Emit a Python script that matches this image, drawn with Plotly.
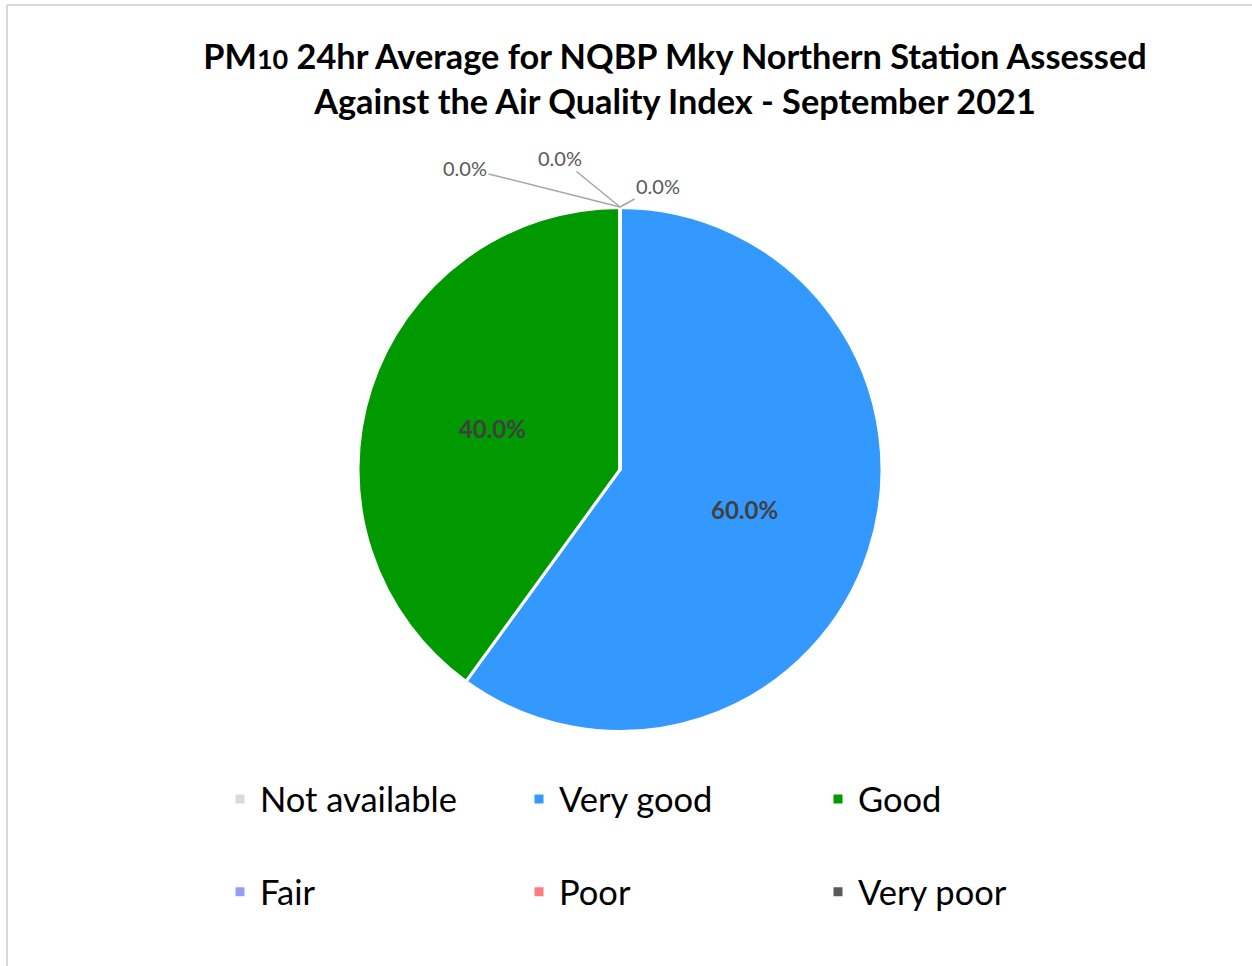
import plotly.graph_objects as go

# ---- data ----
categories = ["Not available", "Very good", "Good", "Fair", "Poor", "Very poor"]
percent_values = [0, 60, 40, 0, 0, 0]
slice_colors = ["#D9D9D9", "#3399FF", "#009900", "#9999FF", "#FF7C80", "#595959"]

title_line1 = "PM<span style='font-size:27px'>10</span> 24hr Average for NQBP Mky Northern Station Assessed"
title_line2 = "Against the Air Quality Index - September 2021"

# ---- layout constants (pixels) ----
W, H = 1252, 966
ML, MR = 150, 150
PW = W - ML - MR
FONT = "Lato"


def px_x(p):
    """figure pixel x -> paper fraction"""
    return (p - ML) / PW


def px_y(p):
    """figure pixel y (from top) -> paper fraction"""
    return 1 - p / H


pie_dom_x = [px_x(358), px_x(882)]
pie_dom_y = [px_y(732), px_y(207)]

total = sum(percent_values)
# legend labels get a blank second line so that the legend rows are spaced like the original
legend_labels = [c + "<br> " for c in categories]
text_pos = ["inside" if v > 0 else "none" for v in percent_values]

fig = go.Figure()
fig.add_trace(go.Pie(
    labels=legend_labels,
    values=percent_values,
    sort=False,
    direction="clockwise",
    rotation=0,
    marker=dict(colors=slice_colors, line=dict(color="white", width=3)),
    texttemplate="%{percent:.1%}",
    textposition=text_pos,
    insidetextorientation="horizontal",
    insidetextfont=dict(family=FONT, size=24, color="#404040", weight="bold"),
    domain=dict(x=pie_dom_x, y=pie_dom_y),
    hoverinfo="skip",
))

# zero-value slices sit at the top of the pie; label them with leader lines
top_x = (pie_dom_x[0] + pie_dom_x[1]) / 2
top_y = pie_dom_y[1]
zero_label_offsets = {"Not available": (38, -21), "Fair": (-155, -39), "Poor": (-60, -49)}
annotations = []
for cat, v in zip(categories, percent_values):
    if v == 0 and cat in zero_label_offsets:
        ax, ay = zero_label_offsets[cat]
        annotations.append(dict(
            x=top_x, y=top_y, xref="paper", yref="paper",
            text=f"{v / total:.1%}",
            showarrow=True, arrowhead=0, arrowwidth=1.5, arrowcolor="#A6A6A6",
            standoff=0, startstandoff=0,
            ax=ax, ay=ay,
            font=dict(family=FONT, size=20, color="#595959"),
        ))

fig.update_layout(
    width=W, height=H,
    margin=dict(l=ML, r=MR, t=0, b=0),
    paper_bgcolor="white",
    plot_bgcolor="white",
    title=dict(
        text=title_line1 + "<br>" + title_line2,
        x=675 / W, xanchor="center",
        y=1 - 69 / H, yanchor="top",
        font=dict(family=FONT, size=34.3, color="#000000", weight="bold"),
    ),
    showlegend=True,
    legend=dict(
        orientation="h",
        x=px_x(220), xanchor="left",
        y=0, yanchor="bottom",
        font=dict(family=FONT, size=34.5, color="#000000"),
        entrywidth=254, entrywidthmode="pixels",
        valign="top",
        traceorder="normal",
        bgcolor="rgba(0,0,0,0)",
    ),
    annotations=annotations,
    shapes=[
        dict(type="line", xref="paper", yref="paper",
             x0=px_x(7), x1=px_x(W + 5), y0=px_y(5), y1=px_y(5),
             line=dict(color="#D9D9D9", width=2)),
        dict(type="line", xref="paper", yref="paper",
             x0=px_x(7), x1=px_x(7), y0=px_y(H + 5), y1=px_y(5),
             line=dict(color="#D9D9D9", width=2)),
    ],
)

fig.write_html("out.html", config={"displayModeBar": False},
               post_script="document.body.style.margin='0px';")
